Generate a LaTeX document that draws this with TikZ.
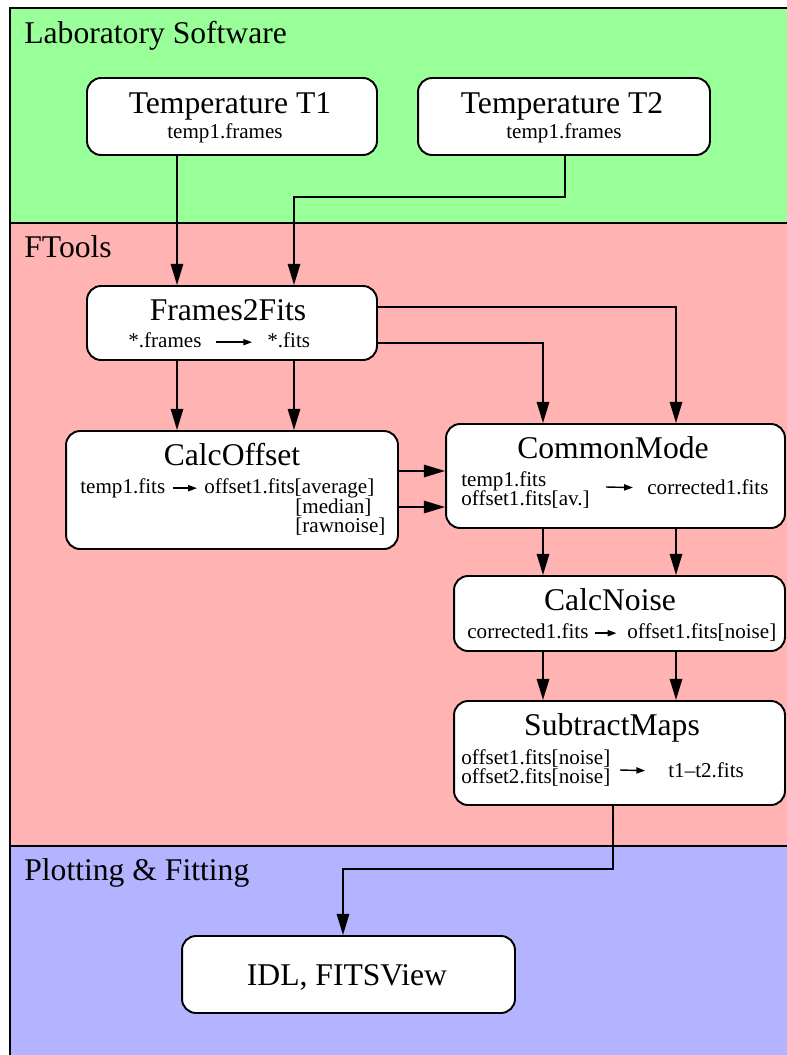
\documentclass[tikz,border=0pt]{standalone}
\usepackage{fontspec}
\setmainfont{Liberation Serif}
\usetikzlibrary{arrows.meta}

\definecolor{labgreen}{RGB}{153,255,153}
\definecolor{ftoolpink}{RGB}{255,179,179}
\definecolor{plotblue}{RGB}{179,179,255}

\begin{document}
\begin{tikzpicture}[x=0.02cm, y=-0.02cm,
    area/.style = {draw, line width=0.6pt},
    areaname/.style = {inner sep=0pt, anchor=base west, font=\fontsize{18}{20}\selectfont},
    box/.style = {draw, fill=white, rounded corners=8pt, line width=1.1pt, inner sep=0pt},
    big/.style = {inner sep=0pt, anchor=base, font=\fontsize{18}{20}\selectfont},
    sml/.style = {inner sep=0pt, anchor=base west, text height=8pt, text depth=2.5pt, font=\fontsize{12}{13}\selectfont},
    smlc/.style = {sml, anchor=base},
    flow/.style = {line width=1.1pt, -{Triangle[length=12pt,width=7pt]}},
    inarr/.style = {line width=0.8pt, -{Triangle[length=5pt,width=3.5pt]}}]
    \useasboundingbox (0,0) rectangle (787,1055);

    % the three layers
    \draw[area, fill=labgreen]  (10,8)   rectangle (800,223);
    \draw[area, fill=ftoolpink] (10,223) rectangle (800,846);
    \draw[area, fill=plotblue]  (10,846) rectangle (800,1070);
    \node[areaname] (lab)  at (24,43)  {Laboratory Software};
    \node[areaname] (ftl)  at (24,257) {FTools};
    \node[areaname] (plot) at (24,880) {Plotting \& Fitting};

    % columns and rows used by the connectors
    \coordinate (colA) at (177,0);
    \coordinate (colB) at (294,0);
    \coordinate (colC) at (543,0);
    \coordinate (colD) at (676,0);
    \coordinate (colE) at (613,0);
    \coordinate (colF) at (343,0);
    \coordinate (colG) at (565,0);
    \coordinate (rowA) at (0,307);
    \coordinate (rowB) at (0,343);
    \coordinate (rowC) at (0,471);
    \coordinate (rowD) at (0,507);

    % boxes
    \node[box, minimum width=5.8cm,  minimum height=1.54cm] (t1)  at (232,116.5)   {};
    \node[box, minimum width=5.84cm, minimum height=1.54cm] (t2)  at (564,116.5)   {};
    \node[box, minimum width=5.8cm,  minimum height=1.48cm] (f2f) at (232,323)     {};
    \node[box, minimum width=6.64cm, minimum height=2.36cm] (co)  at (232,490)     {};
    \node[box, minimum width=6.78cm, minimum height=2.08cm] (cm)  at (615.5,476)   {};
    \node[box, minimum width=6.62cm, minimum height=1.5cm]  (cn)  at (619.5,613.5) {};
    \node[box, minimum width=6.62cm, minimum height=2.08cm] (sm)  at (619.5,753)   {};
    \node[box, minimum width=6.66cm, minimum height=1.54cm] (idl) at (348.5,974.5) {};

    % texts in the boxes
    \node[big]  (t1name) at (230,113) {Temperature T1};
    \node[smlc] (t1file) at (225,138) {temp1.frames};
    \node[big]  (t2name) at (562,113) {Temperature T2};
    \node[smlc] (t2file) at (564,138) {temp1.frames};

    \node[big] (f2fname) at (228,320) {Frames2Fits};
    \node[sml] (f2fin)   at (128,347) {*.frames};
    \node[sml] (f2fout)  at (267,347) {*.fits};
    \draw[inarr, shorten <=8pt, shorten >=8.5pt] (f2fin) -- (f2fout);

    \node[big] (coname) at (232,465) {CalcOffset};
    \node[sml] (coin)   at (80,493)  {temp1.fits};
    \node[sml] (coout)  at (204,493) {offset1.fits[average]};
    \node[sml] (comed)  at (295,513) {[median]};
    \node[sml] (coraw)  at (295,532) {[rawnoise]};
    \draw[inarr, shorten <=4pt, shorten >=4pt] (coin) -- (coout);

    \node[big] (cmname) at (613,458) {CommonMode};
    \node[sml] (cmin)   at (461,486) {temp1.fits};
    \node[sml] (cmoff)  at (461,505) {offset1.fits[av.]};
    \node[sml] (cmout)  at (647,494) {corrected1.fits};
    \coordinate (cmarr) at (606,487);
    \draw[inarr, shorten >=8pt] (cmarr) -- (cmout);

    \node[big] (cnname) at (610,610) {CalcNoise};
    \node[sml] (cnin)   at (467,638) {corrected1.fits};
    \node[sml] (cnout)  at (627,638) {offset1.fits[noise]};
    \draw[inarr, shorten <=3.5pt, shorten >=6pt] (cnin) -- (cnout);

    \node[big] (smname) at (612,735) {SubtractMaps};
    \node[sml] (smin1)  at (461,764) {offset1.fits[noise]};
    \node[sml] (smin2)  at (461,783) {offset2.fits[noise]};
    \node[sml] (smout)  at (668,777) {t1--t2.fits};
    \coordinate (smarr) at (620,770);
    \draw[inarr, shorten >=13pt] (smarr) -- (smout);

    \node[big] (idlname) at (347,985) {IDL, FITSView};

    % connectors
    \draw[flow] (t1.south -| colA) -- (f2f.north -| colA);
    \draw[flow] (t2.south -| colG) -- ++(0,41) -| (f2f.north -| colB);
    \draw[flow] (f2f.east |- rowA) -| (cm.north -| colD);
    \draw[flow] (f2f.east |- rowB) -| (cm.north -| colC);
    \draw[flow] (f2f.south -| colA) -- (co.north -| colA);
    \draw[flow] (f2f.south -| colB) -- (co.north -| colB);
    \draw[flow] (co.east |- rowC) -- (cm.west |- rowC);
    \draw[flow] (co.east |- rowD) -- (cm.west |- rowD);
    \draw[flow] (cm.south -| colC) -- (cn.north -| colC);
    \draw[flow] (cm.south -| colD) -- (cn.north -| colD);
    \draw[flow] (cn.south -| colC) -- (sm.north -| colC);
    \draw[flow] (cn.south -| colD) -- (sm.north -| colD);
    \draw[flow] (sm.south -| colE) -- ++(0,63) -| (idl.north -| colF);
\end{tikzpicture}
\end{document}
